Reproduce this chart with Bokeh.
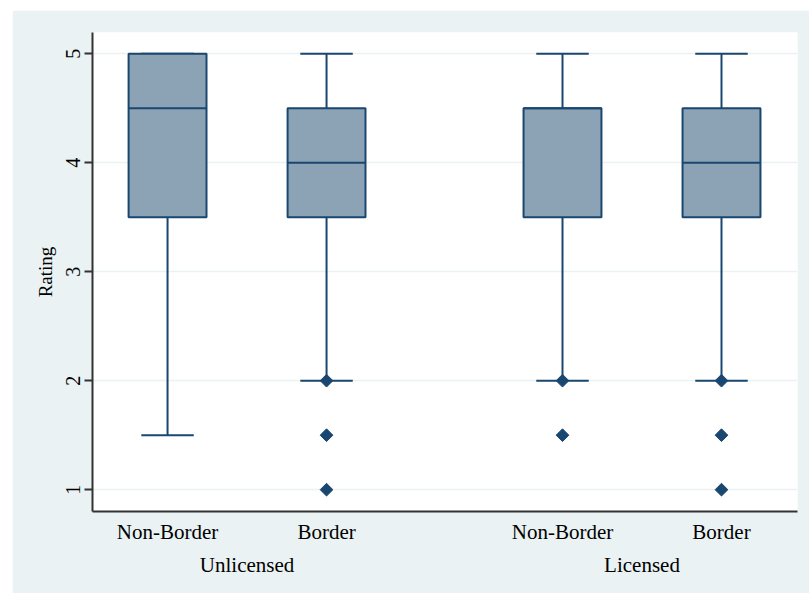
import math
from bokeh.plotting import figure
from bokeh.models import FixedTicker, LinearAxis, Range1d, ColumnDataSource
from bokeh.embed import file_html
from bokeh.resources import INLINE

# ---- data ----
groups = ["Unlicensed", "Licensed"]
sub_labels = ["Non-Border", "Border", "Non-Border", "Border"]
group_of_box = [0, 0, 1, 1]
sub_of_box = [0, 1, 0, 1]
q1 = [3.5, 3.5, 3.5, 3.5]
median = [4.5, 4.0, 4.5, 4.0]
q3 = [5.0, 4.5, 4.5, 4.5]
lower_whisker = [1.5, 2.0, 2.0, 2.0]
upper_whisker = [5.0, 5.0, 5.0, 5.0]
outliers = [[], [2.0, 1.5, 1.0], [2.0, 1.5], [2.0, 1.5, 1.0]]
y_ticks = [1, 2, 3, 4, 5]

# ---- layout helpers ----
GROUP_GAP = 2.484
xs = [g * GROUP_GAP + s for g, s in zip(group_of_box, sub_of_box)]
group_centers = [g * GROUP_GAP + 0.5 for g in range(len(groups))]

NAVY = "#1A476F"
FILL = "#8CA2B5"
BG = "#EAF2F3"
FONT = "Liberation Serif"

p = figure(width=797, height=583, output_backend="svg", toolbar_location=None,
           x_range=Range1d(-0.472, 3.962), y_range=Range1d(0.8, 5.194),
           min_border_left=80, min_border_top=22, min_border_right=12, min_border_bottom=82)
p.margin = (10, 0, 0, 12)
p.border_fill_color = BG
p.background_fill_color = "white"
p.outline_line_color = None

src = ColumnDataSource(dict(x=xs, q1=q1, med=median, q3=q3, lo=lower_whisker, hi=upper_whisker))

BOX_W = 0.49
CAP_W = 0.33
# whisker stems
p.segment(x0="x", y0="lo", x1="x", y1="q1", source=src, line_color=NAVY, line_width=2)
p.segment(x0="x", y0="q3", x1="x", y1="hi", source=src, line_color=NAVY, line_width=2)
# caps
cap_l = [x - CAP_W / 2 for x in xs]
cap_r = [x + CAP_W / 2 for x in xs]
p.segment(x0=cap_l, y0=lower_whisker, x1=cap_r, y1=lower_whisker, line_color=NAVY, line_width=2)
p.segment(x0=cap_l, y0=upper_whisker, x1=cap_r, y1=upper_whisker, line_color=NAVY, line_width=2)
# boxes
p.vbar(x="x", width=BOX_W, bottom="q1", top="q3", source=src,
       fill_color=FILL, line_color=NAVY, line_width=2)
# medians
p.segment(x0=[x - BOX_W / 2 for x in xs], y0=median, x1=[x + BOX_W / 2 for x in xs], y1=median,
          line_color=NAVY, line_width=2)
# outliers
ox, oy = [], []
for x, vals in zip(xs, outliers):
    for v in vals:
        ox.append(x)
        oy.append(v)
p.scatter(ox, oy, marker="square", angle=math.pi / 4, size=9, fill_color=NAVY, line_color=NAVY)

# grid
p.xgrid.grid_line_color = None
p.ygrid.grid_line_color = BG
p.ygrid.grid_line_width = 1.5
p.ygrid.ticker = FixedTicker(ticks=y_ticks)

# y axis
p.yaxis.ticker = FixedTicker(ticks=y_ticks)
p.yaxis.axis_label = "Rating"
p.yaxis.axis_label_text_font = FONT
p.yaxis.axis_label_text_font_style = "normal"
p.yaxis.axis_label_text_font_size = "19px"
p.yaxis.axis_label_text_color = "black"
p.yaxis.axis_label_standoff = 8
p.yaxis.major_label_orientation = "vertical"
p.yaxis.major_label_text_font = FONT
p.yaxis.major_label_text_font_size = "20px"
p.yaxis.major_label_text_color = "black"
p.yaxis.major_label_standoff = 4
p.yaxis.axis_line_color = "#333333"
p.yaxis.axis_line_width = 2
p.yaxis.major_tick_line_color = "#333333"
p.yaxis.major_tick_line_width = 2
p.yaxis.major_tick_out = 8
p.yaxis.major_tick_in = 0
p.yaxis.minor_tick_line_color = None

# x axis (sub labels)
p.xaxis.ticker = FixedTicker(ticks=xs)
p.xaxis.major_label_overrides = {x: lab for x, lab in zip(xs, sub_labels)}
p.xaxis.major_label_text_font = FONT
p.xaxis.major_label_text_font_size = "21px"
p.xaxis.major_label_text_color = "black"
p.xaxis.major_label_standoff = 2
p.xaxis.axis_line_color = "#333333"
p.xaxis.axis_line_width = 2
p.xaxis.major_tick_line_color = None
p.xaxis.minor_tick_line_color = None

# group axis
gax = LinearAxis(ticker=FixedTicker(ticks=group_centers),
                 major_label_overrides={c: g for c, g in zip(group_centers, groups)})
gax.axis_line_color = None
gax.major_tick_line_color = None
gax.minor_tick_line_color = None
gax.major_label_text_font = FONT
gax.major_label_text_font_size = "21px"
gax.major_label_text_color = "black"
gax.major_label_standoff = 0
p.add_layout(gax, "below")

open("out.html", "w").write(file_html(p, INLINE))
